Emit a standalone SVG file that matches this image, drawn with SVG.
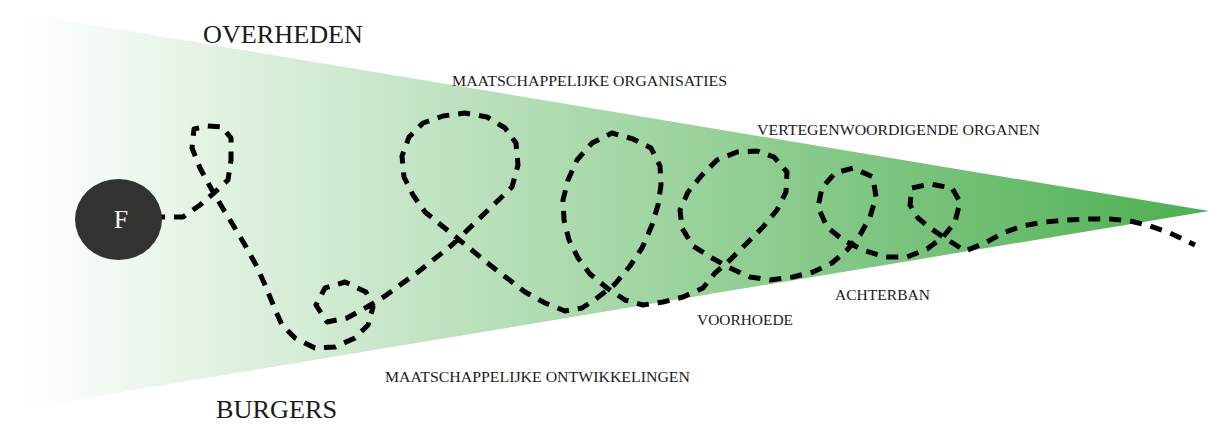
<svg xmlns="http://www.w3.org/2000/svg" width="1209" height="425" viewBox="0 0 1209 425">
<style>
.big{font-family:"Liberation Serif","Times New Roman",serif;font-size:25px;fill:#1a1a1a}
.lbl{font-family:"Liberation Serif","Times New Roman",serif;font-size:15.5px;fill:#1a1a1a}
.route{fill:none;stroke:#000;stroke-width:5;stroke-dasharray:12 9;stroke-linejoin:round;stroke-linecap:butt}
</style>
<defs>
<linearGradient id="g" x1="20" y1="0" x2="1209" y2="0" gradientUnits="userSpaceOnUse">
<stop offset="0" stop-color="#ffffff"/>
<stop offset="1" stop-color="#4caf50"/>
</linearGradient>
</defs>
<g id="wedge"><polygon points="20,13 1209,211 20,409" fill="url(#g)"/></g>
<g id="labels">
<text class="big" x="203" y="42.5" textLength="160" lengthAdjust="spacingAndGlyphs">OVERHEDEN</text>
<text class="big" x="216" y="417.5" textLength="121" lengthAdjust="spacingAndGlyphs">BURGERS</text>
<text class="lbl" x="452" y="85.5" textLength="275" lengthAdjust="spacingAndGlyphs">MAATSCHAPPELIJKE ORGANISATIES</text>
<text class="lbl" x="757" y="135" textLength="283" lengthAdjust="spacingAndGlyphs">VERTEGENWOORDIGENDE ORGANEN</text>
<text class="lbl" x="835" y="300" textLength="95" lengthAdjust="spacingAndGlyphs">ACHTERBAN</text>
<text class="lbl" x="697" y="324.5" textLength="96" lengthAdjust="spacingAndGlyphs">VOORHOEDE</text>
<text class="lbl" x="385" y="382" textLength="305" lengthAdjust="spacingAndGlyphs">MAATSCHAPPELIJKE ONTWIKKELINGEN</text>
</g>
<g id="connectors">
<path class="route" d="M153,217 L183,217 L200,205 L215,192 L228,180 L231,160 L231,138 L222,127 L207,126 L194,129 L192,148 L200,168 L212,190 L222,207 L233,225 L245,245 L256,265 L266,287 L274,307 L282,325 L295,338 L315,348 L335,347 L355,338 L368,325 L373,307 L366,292 L345,282 L325,288 L316,305 L327,322 L347,318 L367,307 L385,296 L400,285 L418,272 L452,245 L483,215 L512,187 L518,165 L516,143 L505,128 L487,117 L465,113 L443,116 L423,123 L409,137 L402,156 L404,177 L413,195 L425,212 L457,238 L490,265 L525,292 L545,303 L565,311 L582,308 L597,298 L615,284 L630,266 L642,248 L652,225 L658,205 L661,185 L660,166 L651,148 L633,139 L612,133 L592,143 L577,160 L568,180 L563,200 L564,220 L569,240 L578,258 L590,274 L607,288 L625,300 L643,305 L663,302 L683,297 L703,288 L715,273 L730,260 L747,243 L763,227 L777,210 L786,192 L787,172 L774,157 L757,151 L737,152 L717,160 L702,175 L688,192 L680,210 L682,228 L693,246 L712,258 L730,268 L750,277 L770,280 L793,277 L813,272 L832,263 L847,250 L860,235 L870,217 L876,197 L873,177 L853,168 L835,173 L822,188 L818,207 L827,227 L843,240 L863,250 L885,257 L907,257 L927,249 L943,237 L955,222 L960,202 L952,188 L930,184 L912,188 L910,205 L918,218 L930,228 L945,238 L965,251 L985,243 L1003,233 L1022,226 L1045,222 L1067,220 L1090,219 L1110,219 L1130,221 L1150,226 L1170,233 L1195,245"/>
</g>
<g id="node-F">
<ellipse cx="118.5" cy="219.5" rx="43.5" ry="40.5" fill="#323330"/>
<text x="121" y="227.5" text-anchor="middle" style="font-family:'Liberation Serif','Times New Roman',serif;font-size:26px;fill:#f2f2f2">F</text>
</g>
</svg>
